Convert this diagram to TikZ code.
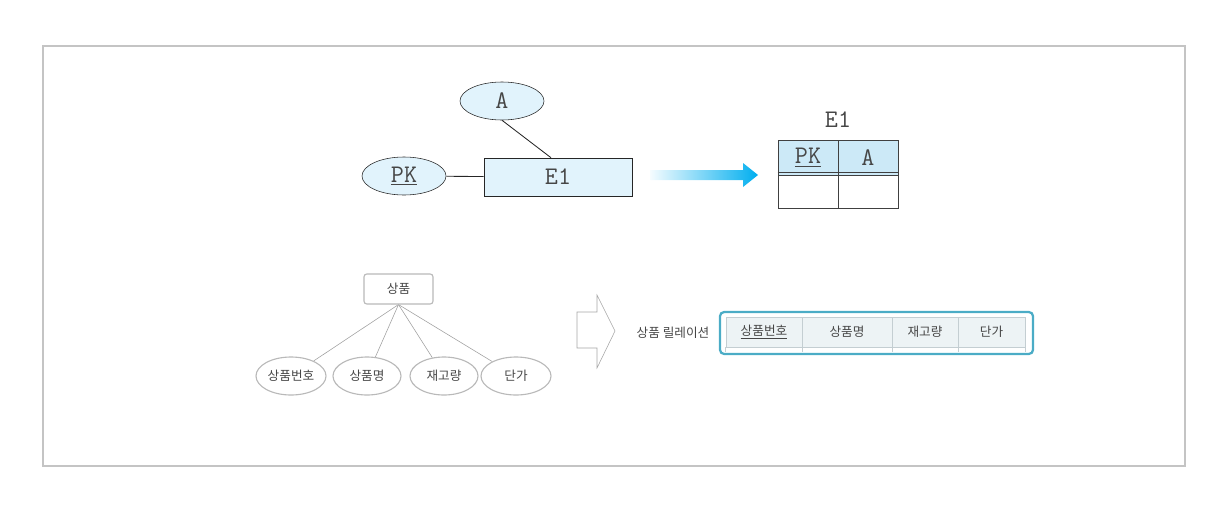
\documentclass[tikz,border=0pt]{standalone}
\usepackage{fontspec}
\newfontfamily\kr{Noto Sans CJK KR}
\usepackage{xcolor}
\usepackage{tikz}
\usetikzlibrary{backgrounds}
\usetikzlibrary{shapes,shapes.geometric}
\usetikzlibrary{positioning,calc}
\pgfdeclarelayer{edgelayer}
\pgfdeclarelayer{nodelayer}
\pgfsetlayers{background,edgelayer,nodelayer,main}
\definecolor{attrblue}{RGB}{225,243,252}
\definecolor{headblue}{RGB}{204,233,247}
\definecolor{arrcyan}{RGB}{0,174,239}
\definecolor{framegray}{RGB}{196,196,196}
\definecolor{relteal}{RGB}{75,172,198}
\definecolor{relhead}{RGB}{237,243,245}
\definecolor{relline}{RGB}{196,206,210}
\definecolor{softgray}{RGB}{185,185,185}
\definecolor{inkgray}{RGB}{70,70,70}
\tikzstyle{none}=[inner sep=0mm]
\tikzstyle{tt}=[font=\ttfamily\fontsize{18}{20}\selectfont,text=inkgray]
\tikzstyle{ko}=[font=\kr\fontsize{9}{11}\selectfont,text=inkgray]
\tikzstyle{attr}=[tt,shape=ellipse,draw=black!85,fill=attrblue,minimum width=2.1cm,minimum height=0.95cm,inner sep=0pt]
\tikzstyle{ent}=[tt,shape=rectangle,draw=black!85,fill=attrblue,minimum width=3.7cm,minimum height=0.95cm,inner sep=0pt]
\tikzstyle{hcell}=[tt,shape=rectangle,draw=black!75,fill=headblue,minimum width=1.5cm,minimum height=0.875cm,inner sep=0pt]
\tikzstyle{bcell}=[shape=rectangle,draw=black!75,fill=white,minimum width=1.5cm,minimum height=0.825cm,inner sep=0pt]
\tikzstyle{kbox}=[ko,shape=rectangle,rounded corners=2pt,draw=softgray,thick,fill=white,minimum width=1.725cm,minimum height=0.75cm,inner sep=0pt]
\tikzstyle{kattr}=[ko,shape=ellipse,draw=softgray,thick,fill=white,minimum width=1.75cm,minimum height=0.95cm,inner sep=0pt]
\tikzstyle{rcell}=[ko,shape=rectangle,draw=relline,fill=relhead,minimum height=0.75cm,inner sep=0pt]
\tikzstyle{relbox}=[shape=rectangle,rounded corners=3pt,draw=relteal,line width=1.6pt,minimum width=7.825cm,minimum height=1.05cm,inner sep=0pt]

\begin{document}
\begin{tikzpicture}[x=0.025cm,y=-0.025cm]
	\useasboundingbox (0,0) rectangle (1230,514);
	\draw [framegray,line width=1.4pt] (43,46) rectangle (1185,466);
	\begin{pgfonlayer}{nodelayer}
		% ER diagram
		\node [style=attr] (a) at (502,101) {A};
		\node [style=attr] (pk) at (404,176) {\underline{PK}};
		\node [style=ent] (e1) at (558,177) {E1};
		% table E1
		\node [style=tt] (tname) at (838,120) {E1};
		\node [style=hcell] (hpk) at (808,157.5) {\underline{PK}};
		\node [style=hcell] (ha) at (868,157.5) {A};
		\node [style=bcell] (bpk) at (808,191.5) {};
		\node [style=bcell] (ba) at (868,191.5) {};
		% product entity
		\node [style=kbox] (prod) at (398.5,289) {상품};
		\node [style=kattr] (pnum) at (291,376) {상품번호};
		\node [style=kattr,minimum width=1.7cm] (pname) at (367,376) {상품명};
		\node [style=kattr,minimum width=1.7cm] (pstock) at (444,376) {재고량};
		\node [style=kattr] (pprice) at (516,376) {단가};
		% product relation
		\node [style=ko] (rlabel) at (673,333) {상품 릴레이션};
		\node [style=rcell,minimum width=1.9cm] (c1) at (764,332) {\underline{상품번호}};
		\node [style=rcell,minimum width=2.25cm] (c2) at (847,332) {상품명};
		\node [style=rcell,minimum width=1.65cm] (c3) at (925,332) {재고량};
		\node [style=rcell,minimum width=1.675cm] (c4) at (991.5,332) {단가};
		\node [style=relbox] (rel) at (876.5,333) {};
	\end{pgfonlayer}
	\begin{pgfonlayer}{edgelayer}
		\draw [semithick,black!85] (a.south) to ($(e1.north)+(-7,0)$);
		\draw [semithick,black!85] (pk) to (e1);
		\shade [left color=arrcyan!4,right color=arrcyan]
			(650,170) -- (743,170) -- (743,163) -- (758,175) -- (743,187) -- (743,180) -- (650,180) -- cycle;
		\draw [gray!70,fill=white]
			(577,312) -- (597,312) -- (597,295) -- (615,331) -- (597,368) -- (597,348) -- (577,348) -- cycle;
		\draw [gray!75] (prod.south) to (pnum);
		\draw [gray!75] (prod.south) to (pname);
		\draw [gray!75] (prod.south) to (pstock);
		\draw [gray!75] (prod.south) to (pprice);
		\draw [relline] (c1.south west) -- ++(0,5);
		\draw [relline] (c1.south east) -- ++(0,5);
		\draw [relline] (c2.south east) -- ++(0,5);
		\draw [relline] (c3.south east) -- ++(0,5);
		\draw [relline] (c4.south east) -- ++(0,5);
	\end{pgfonlayer}
	% double rule under the header
	\draw [black!75] ($(hpk.south west)+(0,-3)$) to ($(ha.south east)+(0,-3)$);
\end{tikzpicture}
\end{document}
